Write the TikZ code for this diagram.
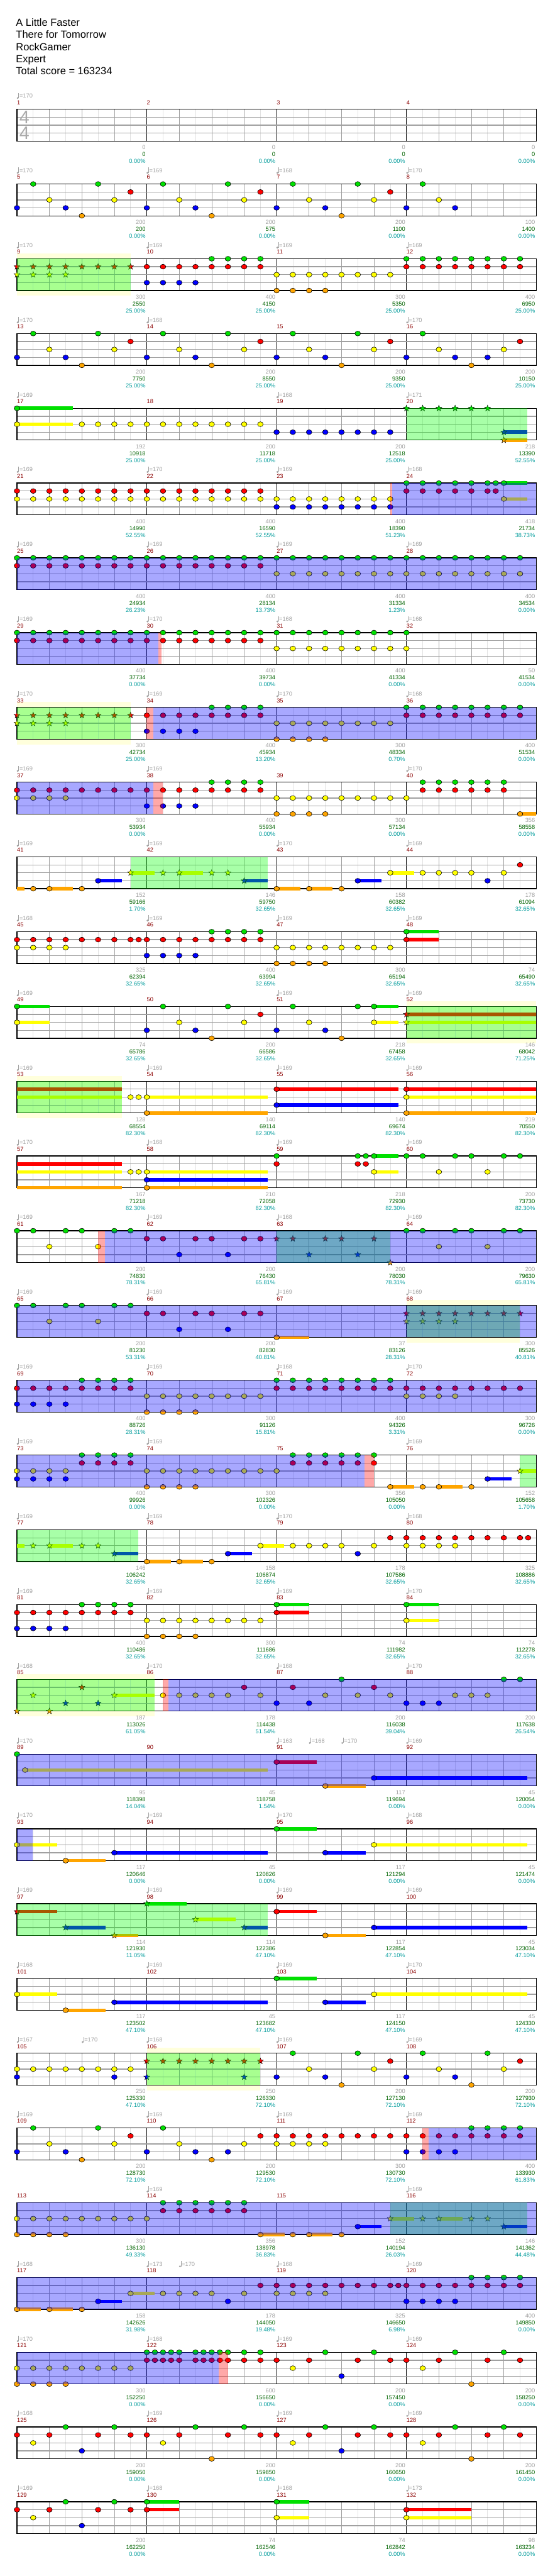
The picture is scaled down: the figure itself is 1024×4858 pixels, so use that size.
\documentclass[tikz,border=0pt]{standalone}
\usepackage{fontspec}
\setmainfont{Liberation Sans}
\usepackage{tikz}
\usetikzlibrary{shapes.geometric}

\definecolor{ghG}{HTML}{00E000}
\definecolor{ghR}{HTML}{FF0000}
\definecolor{ghY}{HTML}{FFFF00}
\definecolor{ghB}{HTML}{0000FF}
\definecolor{ghO}{HTML}{FFA500}
\definecolor{ghBarRed}{HTML}{8B0000}
\definecolor{ghGrey}{HTML}{A0A0A0}
\definecolor{ghLight}{HTML}{E2E2E2}
\definecolor{ghScore}{HTML}{006400}
\definecolor{ghPct}{HTML}{009C9C}
\definecolor{ghBand}{HTML}{FFFFDC}
\definecolor{ghSig}{HTML}{AAAAAA}

\newcommand\ghsmall{\fontsize{11}{13}\selectfont}
\newcommand\ghtitle{\fontsize{19.5}{23}\selectfont}

\tikzset{
  ghrow/.style={shift={(32pt,{-(206+141*#1)*1pt})}, x=30.625pt, y=-1pt},
  eighthline/.style={draw=ghLight, line width=0.8pt},
  beatline/.style={draw=ghGrey, line width=0.8pt},
  barline/.style={draw=black, line width=0.8pt},
  laneline/.style={draw=ghGrey, line width=1.5pt},
  staffedge/.style={draw=black, line width=1.5pt},
  gem/.style={draw=black, line width=0.7pt},
  spstar/.style={star, star points=5, star point ratio=2.4, minimum size=12pt,
    inner sep=0pt, draw=black, line width=0.5pt},
  spfill/.style={fill=green, fill opacity=0.34},
  actfill/.style={fill=blue, fill opacity=0.34},
  lagfill/.style={fill=red, fill opacity=0.34},
  bandfill/.style={fill=ghBand},
  barnum/.style={font=\ghsmall, text=ghBarRed, anchor=base west, inner sep=0pt},
  tempolbl/.style={font=\ghsmall, text=ghGrey, anchor=base west, inner sep=0pt},
  basescore/.style={font=\ghsmall, text=ghGrey, anchor=base east, inner sep=0pt},
  totalscore/.style={font=\ghsmall, text=ghScore, anchor=base east, inner sep=0pt},
  pctscore/.style={font=\ghsmall, text=ghPct, anchor=base east, inner sep=0pt},
  titletext/.style={font=\ghtitle, anchor=base west, inner sep=0pt},
  timesig/.style={font=\fontsize{34}{34}\selectfont, text=ghSig, inner sep=0pt}
}

% row helpers (inside a ghrow scope: x in eighths, y in px down from staff top)
\newcommand\ghgrid{%
  \foreach \e in {1,3,...,31} \draw[eighthline] (\e,0) -- (\e,60);
  \foreach \q in {2,4,6,10,12,14,18,20,22,26,28,30} \draw[beatline] (\q,0) -- (\q,60);
  \foreach \b in {8,16,24} \draw[barline] (\b,0) -- (\b,60);
  \foreach \l in {15,30,45} \draw[laneline] (0,\l) -- (32,\l);
  \draw[staffedge] (0,0) rectangle (32,60);}
\newcommand\ghgems[3]{\foreach \p in {#3}{\filldraw[gem, fill=#1] (\p,{15*#2}) ellipse [x radius=5.3pt, y radius=4.6pt];}}
\newcommand\ghstars[3]{\foreach \p in {#3}{\node[spstar, fill=#1] (star-#2-\p) at (\p,{15*#2}) {};}}
\newcommand\ghhold[4]{\fill[#1] (#3,{15*#2-3.3}) rectangle (#4,{15*#2+3.3});}
\newcommand\ghholdgem[4]{\ghhold{#1}{#2}{#3}{#4}\ghgems{#1}{#2}{#3}}
\newcommand\ghholdstar[4]{\ghhold{#1}{#2}{#3}{#4}\ghstars{#1}{#2}{#3}}
\newcommand\ghsp[2]{\fill[spfill] (#1,0) rectangle (#2,60);}
\newcommand\ghact[2]{\fill[actfill] (#1,0) rectangle (#2,60);}
\newcommand\ghlag[2]{\fill[lagfill] (#1,0) rectangle (#2,60);}
\newcommand\ghband[2]{\fill[bandfill] (#1,-10) rectangle (#2,70);}
\newcommand\ghlabels[3]{%
  \foreach \i in {0,...,3}{
    \pgfmathtruncatemacro\barno{#1+\i}
    \node[barnum] (bar\barno) at (8*\i,-9) {\barno};}
  \foreach \p/\v in {#2}{
    \fill[ghGrey] ({\p+0.045},-21) circle (1.9pt);
    \draw[ghGrey, line width=0.6pt] ({\p+0.105},-21) -- ({\p+0.105},-31);
    \node[tempolbl] (tempo-#1-\p) at ({\p+0.15},-21.5) {=\v};}
  \foreach \g/\t/\c [count=\i] in {#3}{
    \pgfmathtruncatemacro\barno{#1+\i-1}
    \node[basescore] (base\barno) at ({8*\i-0.07},76) {\g};
    \node[totalscore] (total\barno) at ({8*\i-0.07},89) {\t};
    \node[pctscore] (pct\barno) at ({8*\i-0.07},102) {\c\%};}}

\begin{document}
\begin{tikzpicture}
  \fill[white] (0,0) rectangle (1024pt,-4858pt);
  \useasboundingbox (0,0) rectangle (1024pt,-4858pt);
  \node[titletext] (song) at (30pt,-49pt) {A Little Faster};
  \node[titletext] (artist) at (30pt,-72pt) {There for Tomorrow};
  \node[titletext] (charter) at (30pt,-95pt) {RockGamer};
  \node[titletext] (level) at (30pt,-118pt) {Expert};
  \node[titletext] (total) at (30pt,-141pt) {Total score = 163234};

  % row 0
  \begin{scope}[ghrow=0]
    \ghgrid
    \node[timesig] (sigtop) at (0.46,15) {4};
    \node[timesig] (sigbot) at (0.46,45) {4};
    \ghlabels{1}{0/170}{0/0/0.00,0/0/0.00,0/0/0.00,0/0/0.00}
  \end{scope}
  % row 1
  \begin{scope}[ghrow=1]
    \ghgrid
    \ghgems{ghB}{3}{0,3,8,11,16,19,24,27}
    \ghgems{ghG}{0}{1,5,9,13,17,21,25}
    \ghgems{ghY}{2}{2,6,10,14,18,22,26}
    \ghgems{ghO}{4}{4,12,20}
    \ghgems{ghR}{1}{7,15,23}
    \ghlabels{5}{0/170,8/169,16/168,24/170}{200/200/0.00,200/575/0.00,200/1100/0.00,100/1400/0.00}
  \end{scope}
  % row 2
  \begin{scope}[ghrow=2]
    \ghband{0}{7}
    \ghgrid
    \ghstars{ghR}{1}{0,...,7}
    \ghstars{ghY}{2}{0,...,3}
    \ghgems{ghB}{3}{8,...,11}
    \ghgems{ghG}{0}{12,...,15}
    \ghgems{ghR}{1}{8,...,15}
    \ghgems{ghY}{2}{16,...,23}
    \ghgems{ghO}{4}{16,...,19}
    \ghgems{ghG}{0}{24,...,31}
    \ghgems{ghR}{1}{24,...,31}
    \ghsp{0}{7}
    \ghlabels{9}{0/170,8/169,16/169,24/169}{300/2550/25.00,400/4150/25.00,300/5350/25.00,400/6950/25.00}
  \end{scope}
  % row 3
  \begin{scope}[ghrow=3]
    \ghgrid
    \ghgems{ghB}{3}{0,3,8,11,16,19,24,27,29}
    \ghgems{ghG}{0}{1,5,9,13,17,21,25}
    \ghgems{ghY}{2}{2,6,10,14,18,22,26,30}
    \ghgems{ghO}{4}{4,12,20,28}
    \ghgems{ghR}{1}{7,15,23,31}
    \ghlabels{13}{0/170,8/168,24/170}{200/7750/25.00,200/8550/25.00,200/9350/25.00,200/10150/25.00}
  \end{scope}
  % row 4
  \begin{scope}[ghrow=4]
    \ghgrid
    \ghholdgem{ghG}{0}{0}{3.46}
    \ghholdgem{ghY}{2}{0}{3.46}
    \ghgems{ghY}{2}{4,...,15}
    \ghgems{ghB}{3}{16,...,23}
    \ghstars{ghG}{0}{24,...,29}
    \ghholdstar{ghB}{3}{30}{31.45}
    \ghholdstar{ghO}{4}{30}{31.45}
    \ghsp{24}{31.45}
    \ghlabels{17}{0/169,16/168,24/171}{192/10918/25.00,200/11718/25.00,200/12518/25.00,218/13390/52.55}
  \end{scope}
  % row 5
  \begin{scope}[ghrow=5]
    \ghgrid
    \ghgems{ghR}{1}{0,...,15}
    \ghgems{ghY}{2}{0,...,23}
    \ghgems{ghB}{3}{16,...,23}
    \ghgems{ghG}{0}{24,25,26,27,28,29,29.5}
    \ghgems{ghR}{1}{24,25,26,27,28,29,29.5}
    \ghholdgem{ghG}{0}{30}{31.45}
    \ghholdgem{ghY}{2}{30}{31.45}
    \ghlag{22.99}{23.12}
    \ghact{23.12}{32}
    \ghlabels{21}{0/169,8/170,16/169,24/168}{400/14990/52.55,400/16590/52.55,400/18390/51.23,418/21734/38.73}
  \end{scope}
  % row 6
  \begin{scope}[ghrow=6]
    \ghgrid
    \ghgems{ghG}{0}{0,...,31}
    \ghgems{ghR}{1}{0,...,15}
    \ghgems{ghY}{2}{16,...,31}
    \ghact{0}{32}
    \ghlabels{25}{0/169,8/169,16/169,24/169}{400/24934/26.23,400/28134/13.73,400/31334/1.23,400/34534/0.00}
  \end{scope}
  % row 7
  \begin{scope}[ghrow=7]
    \ghgrid
    \ghgems{ghG}{0}{0,...,24}
    \ghgems{ghR}{1}{0,...,15}
    \ghgems{ghY}{2}{16,...,24}
    \ghact{0}{8.71}
    \ghlag{8.71}{8.92}
    \ghlabels{29}{0/169,8/170,16/168,24/168}{400/37734/0.00,400/39734/0.00,400/41334/0.00,50/41534/0.00}
  \end{scope}
  % row 8
  \begin{scope}[ghrow=8]
    \ghband{0}{7}
    \ghgrid
    \ghstars{ghR}{1}{0,...,7}
    \ghstars{ghY}{2}{0,...,3}
    \ghgems{ghR}{1}{8,...,15}
    \ghgems{ghB}{3}{8,...,11}
    \ghgems{ghG}{0}{12,...,15}
    \ghgems{ghY}{2}{16,...,23}
    \ghgems{ghO}{4}{16,...,19}
    \ghgems{ghG}{0}{24,...,31}
    \ghgems{ghR}{1}{24,...,31}
    \ghsp{0}{7}
    \ghlag{7.99}{8.42}
    \ghact{8.42}{32}
    \ghlabels{33}{0/170,8/169,16/170,24/168}{300/42734/25.00,400/45934/13.20,300/48334/0.70,400/51534/0.00}
  \end{scope}
  % row 9
  \begin{scope}[ghrow=9]
    \ghgrid
    \ghgems{ghR}{1}{0,...,15}
    \ghgems{ghY}{2}{0,...,3}
    \ghgems{ghB}{3}{8,...,11}
    \ghgems{ghG}{0}{12,...,15}
    \ghgems{ghY}{2}{16,...,24}
    \ghgems{ghO}{4}{16,...,19}
    \ghgems{ghG}{0}{25,...,30}
    \ghgems{ghR}{1}{25,...,30}
    \ghholdgem{ghO}{4}{31}{32}
    \ghact{0}{8.42}
    \ghlag{8.42}{8.99}
    \ghlabels{37}{0/169,8/169,24/170}{300/53934/0.00,400/55934/0.00,300/57134/0.00,356/58558/0.00}
  \end{scope}
  % row 10
  \begin{scope}[ghrow=10]
    \ghgrid
    \ghhold{ghO}{4}{0}{0.48}
    \ghgems{ghO}{4}{1,4,20}
    \ghholdgem{ghO}{4}{2}{3.46}
    \ghholdgem{ghB}{3}{5}{6.46}
    \ghholdstar{ghY}{2}{7}{8.47}
    \ghstars{ghY}{2}{9,12,13}
    \ghholdstar{ghY}{2}{10}{11.47}
    \ghholdstar{ghB}{3}{14}{15.45}
    \ghholdgem{ghO}{4}{16}{17.46}
    \ghholdgem{ghO}{4}{18}{19.46}
    \ghholdgem{ghB}{3}{21}{22.46}
    \ghholdgem{ghY}{2}{23}{24.47}
    \ghgems{ghY}{2}{25,26,27,28,30}
    \ghgems{ghB}{3}{29}
    \ghgems{ghR}{1}{31}
    \ghsp{7}{15.45}
    \ghlabels{41}{0/169,8/169,16/170,24/169}{152/59166/1.70,146/59750/32.65,158/60382/32.65,178/61094/32.65}
  \end{scope}
  % row 11
  \begin{scope}[ghrow=11]
    \ghgrid
    \ghgems{ghR}{1}{0,1,2,3,4,5,6,7,7.5,8,9,10,11,12,13,14,15}
    \ghgems{ghY}{2}{0,...,3}
    \ghgems{ghB}{3}{8,...,11}
    \ghgems{ghG}{0}{12,...,15}
    \ghgems{ghY}{2}{16,...,23}
    \ghgems{ghO}{4}{16,...,19}
    \ghholdgem{ghG}{0}{24}{26}
    \ghholdgem{ghR}{1}{24}{26}
    \ghlabels{45}{0/168,8/169,16/169,24/169}{325/62394/32.65,400/63994/32.65,300/65194/32.65,74/65490/32.65}
  \end{scope}
  % row 12
  \begin{scope}[ghrow=12]
    \ghband{24}{32}
    \ghgrid
    \ghholdgem{ghG}{0}{0}{2}
    \ghholdgem{ghY}{2}{0}{2}
    \ghgems{ghB}{3}{8,11,16,19}
    \ghgems{ghG}{0}{9,13,17,21}
    \ghgems{ghY}{2}{10,14,18}
    \ghgems{ghO}{4}{12,20}
    \ghgems{ghR}{1}{15}
    \ghholdgem{ghG}{0}{22}{23.49}
    \ghholdgem{ghY}{2}{22}{23.49}
    \ghholdstar{ghR}{1}{24}{32}
    \ghholdstar{ghY}{2}{24}{32}
    \ghsp{24}{32}
    \ghlabels{49}{0/169,16/169,24/169}{74/65786/32.65,200/66586/32.65,218/67458/32.65,146/68042/71.25}
  \end{scope}
  % row 13
  \begin{scope}[ghrow=13]
    \ghband{0}{6.46}
    \ghgrid
    \ghhold{ghR}{1}{0}{6.46}
    \ghhold{ghY}{2}{0}{6.46}
    \ghgems{ghY}{2}{7,7.5}
    \ghholdgem{ghY}{2}{8}{15.45}
    \ghholdgem{ghO}{4}{8}{15.45}
    \ghholdgem{ghR}{1}{16}{23.49}
    \ghholdgem{ghB}{3}{16}{23.49}
    \ghholdgem{ghR}{1}{24}{32}
    \ghholdgem{ghY}{2}{24}{32}
    \ghholdgem{ghO}{4}{24}{32}
    \ghsp{0}{6.46}
    \ghlabels{53}{0/169,8/169,16/169,24/169}{128/68554/82.30,140/69114/82.30,140/69674/82.30,219/70550/82.30}
  \end{scope}
  % row 14
  \begin{scope}[ghrow=14]
    \ghgrid
    \ghhold{ghR}{1}{0}{6.46}
    \ghhold{ghY}{2}{0}{6.46}
    \ghhold{ghO}{4}{0}{6.46}
    \ghgems{ghY}{2}{7,7.5}
    \ghholdgem{ghY}{2}{8}{15.45}
    \ghholdgem{ghB}{3}{8}{15.45}
    \ghholdgem{ghO}{4}{8}{15.45}
    \ghgems{ghG}{0}{16,21,21.5}
    \ghgems{ghR}{1}{16,21,21.5}
    \ghholdgem{ghG}{0}{22}{23.49}
    \ghholdgem{ghY}{2}{22}{23.49}
    \ghgems{ghG}{0}{24,25,27,28,30,31}
    \ghgems{ghY}{2}{26,29}
    \ghlabels{57}{0/170,8/168,16/169,24/169}{167/71218/82.30,210/72058/82.30,218/72930/82.30,200/73730/82.30}
  \end{scope}
  % row 15
  \begin{scope}[ghrow=15]
    \ghgrid
    \ghgems{ghG}{0}{0,1,3,4,6,7,24,25,27,28,30,31}
    \ghgems{ghY}{2}{2,5,26,29}
    \ghgems{ghR}{1}{8,9,11,12,14,15}
    \ghgems{ghB}{3}{10,13}
    \ghstars{ghR}{1}{16,17,19,20,22}
    \ghstars{ghB}{3}{18,21}
    \ghstars{ghO}{4}{23}
    \ghsp{16}{22.99}
    \ghlag{5}{5.42}
    \ghact{5.42}{32}
    \ghlabels{61}{0/169,8/169,16/168,24/169}{200/74830/78.31,200/76430/65.81,200/78030/78.31,200/79630/65.81}
  \end{scope}
  % row 16
  \begin{scope}[ghrow=16]
    \ghband{24}{31}
    \ghgrid
    \ghgems{ghG}{0}{0,1,3,4,6,7}
    \ghgems{ghY}{2}{2,5}
    \ghgems{ghR}{1}{8,9,11,12,14,15}
    \ghgems{ghB}{3}{10,13}
    \ghholdgem{ghO}{4}{16}{18}
    \ghstars{ghR}{1}{24,...,31}
    \ghstars{ghY}{2}{24,...,27}
    \ghsp{24}{31}
    \ghact{0}{32}
    \ghlabels{65}{0/169,8/169,16/169,24/169}{200/81230/53.31,200/82830/40.81,37/83126/28.31,300/85526/40.81}
  \end{scope}
  % row 17
  \begin{scope}[ghrow=17]
    \ghgrid
    \ghgems{ghR}{1}{0,...,7}
    \ghgems{ghB}{3}{0,...,3}
    \ghgems{ghG}{0}{4,...,7}
    \ghgems{ghY}{2}{8,...,15}
    \ghgems{ghO}{4}{8,...,11}
    \ghgems{ghG}{0}{16,...,23}
    \ghgems{ghR}{1}{16,...,31}
    \ghgems{ghY}{2}{24,...,27}
    \ghact{0}{32}
    \ghlabels{69}{0/169,8/169,16/168,24/170}{400/88726/28.31,300/91126/15.81,400/94326/3.31,300/96726/0.00}
  \end{scope}
  % row 18
  \begin{scope}[ghrow=18]
    \ghgrid
    \ghgems{ghY}{2}{0,...,3}
    \ghgems{ghB}{3}{0,...,3}
    \ghgems{ghG}{0}{4,...,7}
    \ghgems{ghR}{1}{4,...,7}
    \ghgems{ghY}{2}{8,...,16}
    \ghgems{ghO}{4}{8,...,11}
    \ghgems{ghG}{0}{17,...,22}
    \ghgems{ghR}{1}{17,...,22}
    \ghholdgem{ghO}{4}{23}{24.47}
    \ghgems{ghO}{4}{25,28}
    \ghholdgem{ghO}{4}{26}{27.47}
    \ghholdgem{ghB}{3}{29}{30.47}
    \ghholdstar{ghY}{2}{31}{32}
    \ghact{0}{21.42}
    \ghlag{21.42}{21.99}
    \ghsp{31}{32}
    \ghlabels{73}{0/169,8/169,24/169}{400/99926/0.00,300/102326/0.00,356/105050/0.00,152/105658/1.70}
  \end{scope}
  % row 19
  \begin{scope}[ghrow=19]
    \ghgrid
    \ghhold{ghY}{2}{0}{0.48}
    \ghstars{ghY}{2}{1,4,5}
    \ghholdstar{ghY}{2}{2}{3.46}
    \ghholdstar{ghB}{3}{6}{7.49}
    \ghholdgem{ghO}{4}{8}{9.49}
    \ghholdgem{ghO}{4}{10}{11.47}
    \ghgems{ghO}{4}{12}
    \ghholdgem{ghB}{3}{13}{14.5}
    \ghholdgem{ghY}{2}{15}{16.47}
    \ghgems{ghY}{2}{17,18,19,20,22,24,25,26,27}
    \ghgems{ghB}{3}{21}
    \ghgems{ghR}{1}{23,24,25,26,27,28,29,30,31,31.5}
    \ghsp{0}{7.49}
    \ghlabels{77}{0/169,8/169,16/170,24/168}{146/106242/32.65,158/106874/32.65,178/107586/32.65,325/108886/32.65}
  \end{scope}
  % row 20
  \begin{scope}[ghrow=20]
    \ghgrid
    \ghgems{ghR}{1}{0,...,7}
    \ghgems{ghB}{3}{0,...,3}
    \ghgems{ghG}{0}{4,...,7}
    \ghgems{ghY}{2}{8,...,15}
    \ghgems{ghO}{4}{8,...,11}
    \ghholdgem{ghG}{0}{16}{18}
    \ghholdgem{ghR}{1}{16}{18}
    \ghholdgem{ghG}{0}{24}{26}
    \ghholdgem{ghY}{2}{24}{26}
    \ghlabels{81}{0/169,8/169,16/169,24/170}{400/110486/32.65,300/111686/32.65,74/111982/32.65,74/112278/32.65}
  \end{scope}
  % row 21
  \begin{scope}[ghrow=21]
    \ghband{0}{8.47}
    \ghgrid
    \ghstars{ghO}{4}{0,2}
    \ghstars{ghY}{2}{1}
    \ghstars{ghB}{3}{3,5}
    \ghstars{ghR}{1}{4}
    \ghholdstar{ghY}{2}{6}{8.47}
    \ghgems{ghY}{2}{9,10,11,12,13,15,19,21,23,27,28,29}
    \ghgems{ghR}{1}{14,17,22}
    \ghgems{ghB}{3}{16,18,24,25,26}
    \ghgems{ghG}{0}{20,30,31}
    \ghsp{0}{8.47}
    \ghlag{8.99}{9.34}
    \ghact{9.34}{32}
    \ghlabels{85}{0/168,8/170,16/168,24/170}{187/113026/61.05,178/114438/51.54,200/116038/39.04,200/117638/26.54}
  \end{scope}
  % row 22
  \begin{scope}[ghrow=22]
    \ghgrid
    \ghgems{ghG}{0}{0}
    \ghholdgem{ghY}{2}{0.5}{15.45}
    \ghholdgem{ghR}{1}{16}{18.48}
    \ghholdgem{ghO}{4}{19}{21.48}
    \ghholdgem{ghB}{3}{22}{31.45}
    \ghact{0}{32}
    \ghlabels{89}{0/170,16/163,18/168,20/170,24/169}{95/118398/14.04,45/118758/1.54,117/119694/0.00,45/120054/0.00}
  \end{scope}
  % row 23
  \begin{scope}[ghrow=23]
    \ghgrid
    \ghholdgem{ghY}{2}{0}{2.46}
    \ghholdgem{ghO}{4}{3}{5.46}
    \ghholdgem{ghB}{3}{6}{15.45}
    \ghholdgem{ghG}{0}{16}{18.48}
    \ghholdgem{ghB}{3}{19}{21.48}
    \ghholdgem{ghY}{2}{22}{31.45}
    \ghact{0}{0.96}
    \ghlabels{93}{0/170,8/169,16/170,24/168}{117/120646/0.00,45/120826/0.00,117/121294/0.00,45/121474/0.00}
  \end{scope}
  % row 24
  \begin{scope}[ghrow=24]
    \ghgrid
    \ghholdstar{ghR}{1}{0}{2.46}
    \ghholdstar{ghB}{3}{3}{5.46}
    \ghholdstar{ghO}{4}{6}{7.47}
    \ghholdstar{ghG}{0}{8}{10.47}
    \ghholdstar{ghY}{2}{11}{13.47}
    \ghholdstar{ghB}{3}{14}{15.45}
    \ghholdgem{ghR}{1}{16}{18.48}
    \ghholdgem{ghO}{4}{19}{21.48}
    \ghholdgem{ghB}{3}{22}{31.45}
    \ghsp{0}{15.45}
    \ghlabels{97}{0/169,8/169,16/169,24/169}{114/121930/11.05,114/122386/47.10,117/122854/47.10,45/123034/47.10}
  \end{scope}
  % row 25
  \begin{scope}[ghrow=25]
    \ghgrid
    \ghholdgem{ghY}{2}{0}{2.46}
    \ghholdgem{ghO}{4}{3}{5.46}
    \ghholdgem{ghB}{3}{6}{15.45}
    \ghholdgem{ghG}{0}{16}{18.48}
    \ghholdgem{ghB}{3}{19}{21.48}
    \ghholdgem{ghY}{2}{22}{31.45}
    \ghlabels{101}{0/168,8/169,16/169,24/170}{117/123502/47.10,45/123682/47.10,117/124150/47.10,45/124330/47.10}
  \end{scope}
  % row 26
  \begin{scope}[ghrow=26]
    \ghband{8}{15}
    \ghgrid
    \ghgems{ghY}{2}{0,...,7}
    \ghgems{ghB}{3}{0,6}
    \ghstars{ghR}{1}{8,...,15}
    \ghstars{ghB}{3}{8,14}
    \ghgems{ghB}{3}{16,19,24,27}
    \ghgems{ghG}{0}{17,21,25,29}
    \ghgems{ghY}{2}{18,22,26,30}
    \ghgems{ghO}{4}{20,28}
    \ghgems{ghR}{1}{23,31}
    \ghsp{8}{15}
    \ghlabels{105}{0/167,4/170,8/168,16/169,24/169}{250/125330/47.10,250/126330/72.10,200/127130/72.10,200/127930/72.10}
  \end{scope}
  % row 27
  \begin{scope}[ghrow=27]
    \ghgrid
    \ghgems{ghB}{3}{0,3,8,11,13,24,25,26,27}
    \ghgems{ghG}{0}{1,5,9,28,29,30,31}
    \ghgems{ghY}{2}{2,6,10,14,16,17,18,19}
    \ghgems{ghO}{4}{4,12}
    \ghgems{ghR}{1}{7,15,16,17,18,19,20,21,22,23,24,25,26,27,28,29,30,31}
    \ghlag{24.99}{25.36}
    \ghact{25.36}{32}
    \ghlabels{109}{0/169,8/169,16/169,24/169}{200/128730/72.10,200/129530/72.10,300/130730/72.10,400/133930/61.83}
  \end{scope}
  % row 28
  \begin{scope}[ghrow=28]
    \ghgrid
    \ghgems{ghY}{2}{0,...,8}
    \ghgems{ghO}{4}{0,...,3}
    \ghgems{ghG}{0}{9,...,14}
    \ghgems{ghR}{1}{9,...,14}
    \ghholdgem{ghO}{4}{15}{16.48}
    \ghgems{ghO}{4}{17,20}
    \ghholdgem{ghO}{4}{18}{19.46}
    \ghholdgem{ghB}{3}{21}{22.46}
    \ghholdstar{ghY}{2}{23}{24.47}
    \ghstars{ghY}{2}{25,28,29}
    \ghholdstar{ghY}{2}{26}{27.47}
    \ghholdstar{ghB}{3}{30}{31.45}
    \ghsp{22.99}{31.45}
    \ghact{0}{32}
    \ghlabels{113}{8/169,24/169}{300/136130/49.33,356/138978/36.83,152/140194/26.03,146/141362/44.48}
  \end{scope}
  % row 29
  \begin{scope}[ghrow=29]
    \ghgrid
    \ghholdgem{ghO}{4}{0}{1.46}
    \ghholdgem{ghO}{4}{2}{3.46}
    \ghgems{ghO}{4}{4}
    \ghholdgem{ghB}{3}{5}{6.46}
    \ghholdgem{ghY}{2}{7}{8.47}
    \ghgems{ghY}{2}{9,10,11,12,14,16,17,18,19}
    \ghgems{ghB}{3}{13,24,25,26,27}
    \ghgems{ghR}{1}{15,16,17,18,19,20,21,22,23,23.5,24,25,26,27,28,29,30,31}
    \ghgems{ghG}{0}{28,...,31}
    \ghact{0}{32}
    \ghlabels{117}{0/168,8/173,10/170,16/168,24/169}{158/142626/31.98,178/144050/19.48,325/146650/6.98,400/149850/0.00}
  \end{scope}
  % row 30
  \begin{scope}[ghrow=30]
    \ghgrid
    \ghgems{ghY}{2}{0,...,7}
    \ghgems{ghO}{4}{0,...,3}
    \ghgems{ghG}{0}{8,8.5,9,9.5,10,11,11.5,12,12.5,13,14,15,19,22,27,30}
    \ghgems{ghR}{1}{8,8.5,9,9.5,10,11,11.5,12,12.5,13,14,15,16,18,21,23,24,26,29,31}
    \ghgems{ghY}{2}{17,25}
    \ghgems{ghB}{3}{20}
    \ghgems{ghO}{4}{28}
    \ghact{0}{12.45}
    \ghlag{12.45}{13}
    \ghlabels{121}{0/170,8/168,16/169,24/169}{300/152250/0.00,600/156650/0.00,200/157450/0.00,200/158250/0.00}
  \end{scope}
  % row 31
  \begin{scope}[ghrow=31]
    \ghgrid
    \ghgems{ghR}{1}{0,2,5,7,8,10,13,15,16,18,21,23,24,26,29,31}
    \ghgems{ghY}{2}{1,9,17,25}
    \ghgems{ghG}{0}{3,6,11,14,19,22,27,30}
    \ghgems{ghB}{3}{4,20}
    \ghgems{ghO}{4}{12,28}
    \ghlabels{125}{0/168,8/169,16/169,24/169}{200/159050/0.00,200/159850/0.00,200/160650/0.00,200/161450/0.00}
  \end{scope}
  % row 32
  \begin{scope}[ghrow=32]
    \ghgrid
    \ghgems{ghR}{1}{0,2,5,7}
    \ghgems{ghY}{2}{1}
    \ghgems{ghG}{0}{3,6}
    \ghgems{ghB}{3}{4}
    \ghholdgem{ghG}{0}{8}{10}
    \ghholdgem{ghR}{1}{8}{10}
    \ghholdgem{ghG}{0}{16}{18}
    \ghholdgem{ghY}{2}{16}{18}
    \ghholdgem{ghR}{1}{24}{28}
    \ghholdgem{ghY}{2}{24}{28}
    \ghlabels{129}{0/169,8/168,16/168,24/173}{200/162250/0.00,74/162546/0.00,74/162842/0.00,98/163234/0.00}
  \end{scope}
\end{tikzpicture}
\end{document}
